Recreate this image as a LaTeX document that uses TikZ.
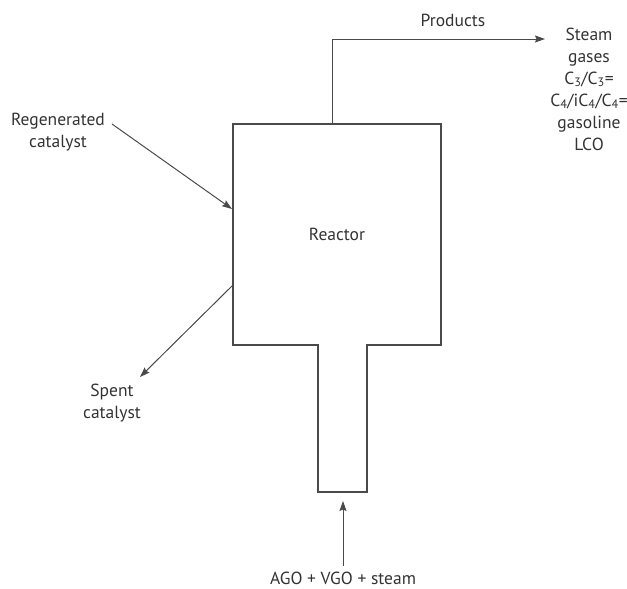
\documentclass[tikz,border=0pt]{standalone}
\usepackage{fontspec}
\setmainfont{PT Sans}
\usetikzlibrary{arrows.meta}
\definecolor{ln}{HTML}{4A4A4A}
\definecolor{tx}{HTML}{333333}
\begin{document}
\begin{tikzpicture}[x=1pt,y=-1pt,
  wall/.style={draw=ln,line width=1.2pt},
  flow/.style={draw=ln,line width=1pt,-{Stealth[length=10pt,width=7pt,inset=1.5pt]}},
  lbl/.style={text=tx,font=\fontsize{17.5pt}{22pt}\selectfont,align=center,inner sep=0pt}]
\useasboundingbox (0,0) rectangle (627,589);
% reactor outline
\draw[wall] (318,345) -- (233,345) -- (233,124) -- (441,124) -- (441,345) -- (367,345) -- (367,492) -- (318,492) -- cycle;
\node[lbl] (reactor) at (337,234) {Reactor};
% connection points
\coordinate (regin) at (232,209);
\coordinate (spentout) at (233,285);
\coordinate (prodout) at (332,124);
\coordinate (prodend) at (545,39);
\coordinate (feedtip) at (343,501);
\coordinate (regtail) at (112,124);
\coordinate (spenttip) at (140,377);
\coordinate (feedtail) at (343,566);
% labels
\node[lbl] (regen) at (58,132) {Regenerated\\catalyst};
\node[lbl] (spent) at (112,403) {Spent\\catalyst};
\node[lbl] (products) at (453,20) {Products};
\node[lbl] (streams) at (589,89) {Steam\\gases\\C\textsubscript{3}/C\textsubscript{3}=\\C\textsubscript{4}/iC\textsubscript{4}/C\textsubscript{4}=\\gasoline\\LCO};
\node[lbl,anchor=base] (feed) at (343,584) {AGO + VGO + steam};
% connectors
\draw[flow] (regtail) -- (regin);
\draw[flow] (spentout) -- (spenttip);
\draw[flow] (prodout) |- (prodend);
\draw[flow] (feedtail) -- (feedtip);
\end{tikzpicture}
\end{document}
